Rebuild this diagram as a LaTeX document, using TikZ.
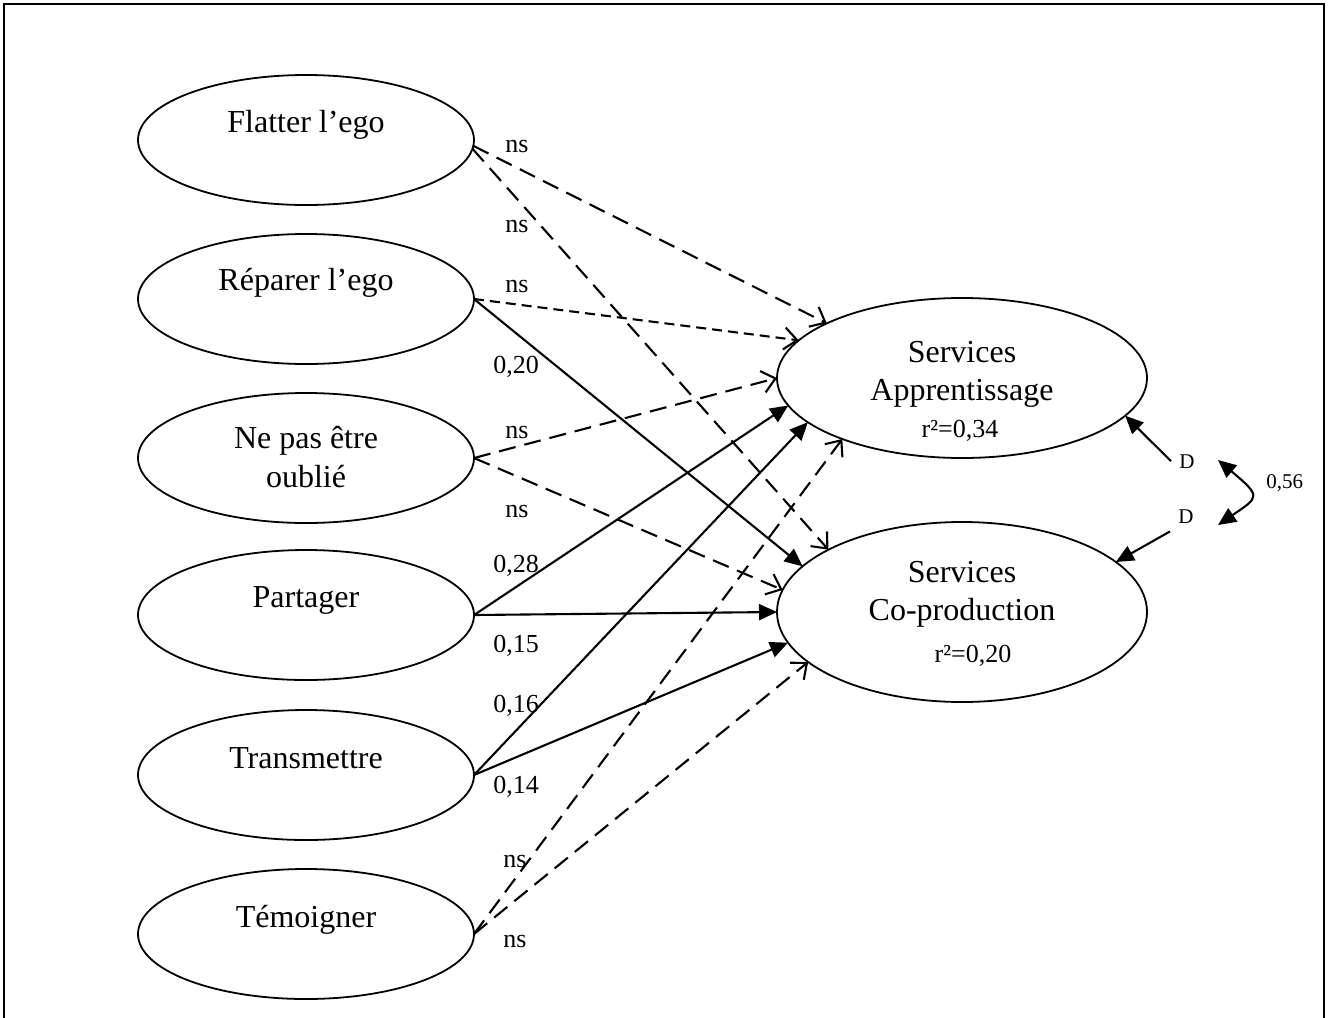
\documentclass[tikz,border=0pt]{standalone}
\usepackage{fontspec}
\setmainfont{Liberation Serif}
\usetikzlibrary{arrows.meta,shapes.geometric}
\begin{document}
\begin{tikzpicture}[x=0.5pt,y=-0.5pt,
  src/.style={ellipse,draw,line width=0.9pt,minimum width=168pt,minimum height=65pt,inner sep=0pt,outer sep=0pt},
  tgtA/.style={ellipse,draw,line width=0.9pt,minimum width=185pt,minimum height=80pt,inner sep=0pt,outer sep=0pt},
  tgtC/.style={ellipse,draw,line width=0.9pt,minimum width=185pt,minimum height=90pt,inner sep=0pt,outer sep=0pt},
  big/.style={font=\fontsize{16}{19.5}\selectfont,anchor=base,inner sep=0pt},
  rsq/.style={font=\fontsize{13}{15}\selectfont,anchor=base,inner sep=0pt},
  coef/.style={font=\fontsize{13}{15}\selectfont,anchor=base west,inner sep=0pt},
  dnode/.style={font=\fontsize{10.5}{12}\selectfont,anchor=base,inner sep=4pt},
  filledtip/.style={Triangle[length=9pt,width=8pt]},
  sig/.style={line width=1.05pt,-{Triangle[length=9pt,width=8pt]}},
  nsig/.style={line width=1.05pt,dash pattern=on 8.5pt off 4.5pt,-{Straight Barb[length=6.5pt,width=11pt,line width=1.05pt]}},
  nsigshort/.style={nsig,dash pattern=on 5pt off 3pt},
]
\useasboundingbox (0,0) rectangle (1329,1018);
% frame
\draw[line width=1pt] (4,1030) -- (4,4) -- (1324,4) -- (1324,1030);

% source ellipses
\node[src] (f) at (306,140) {};
\node[src] (r) at (306,299) {};
\node[src] (n) at (306,458) {};
\node[src] (p) at (306,615) {};
\node[src] (t) at (306,775) {};
\node[src] (m) at (306,934) {};
\node[big] (fT) at (306,132) {Flatter l’ego};
\node[big] (rT) at (306,290) {Réparer l’ego};
\node[big] (nT1) at (306,448) {Ne pas être};
\node[big] (nT2) at (306,487) {oublié};
\node[big] (pT) at (306,607) {Partager};
\node[big] (tT) at (306,768) {Transmettre};
\node[big] (mT) at (306,927) {Témoigner};

% target ellipses
\node[tgtA] (A) at (962,378) {};
\node[tgtC] (C) at (962,612) {};
\node[big] (AT1) at (962,362) {Services};
\node[big] (AT2) at (962,400) {Apprentissage};
\node[rsq] (AT3) at (960,437) {r²=0,34};
\node[big] (CT1) at (962,582) {Services};
\node[big] (CT2) at (962,620) {Co-production};
\node[rsq] (CT3) at (973,662) {r²=0,20};

% paths
\draw[nsig] (f.-2) -- (A.158);
\draw[nsig] (f.-3) -- (C.155);
\draw[nsigshort] (r.east) -- (A.167);
\draw[sig] (r.east) -- (C.164);
\draw[nsig] (n.east) -- (A.180);
\draw[nsig] (n.east) -- (C.173);
\draw[sig] (p.east) -- (A.189);
\draw[sig] (p.east) -- (C.180);
\draw[sig] (t.east) -- (A.196);
\draw[sig] (t.east) -- (C.190);
\draw[nsig] (m.east) -- (A.207);
\draw[nsig] (m.east) -- (C.198);

% coefficients
\node[coef] (l1) at (505,152) {ns};
\node[coef] (l2) at (505,232) {ns};
\node[coef] (l3) at (505,292) {ns};
\node[coef] (l4) at (493,373) {0,20};
\node[coef] (l5) at (505,438) {ns};
\node[coef] (l6) at (505,517) {ns};
\node[coef] (l7) at (493,572) {0,28};
\node[coef] (l8) at (493,652) {0,15};
\node[coef] (l9) at (493,712) {0,16};
\node[coef] (l10) at (493,793) {0,14};
\node[coef] (l11) at (503,867) {ns};
\node[coef] (l12) at (503,947) {ns};

% disturbances
\node[dnode] (dU) at (1187,468) {D};
\node[dnode] (dL) at (1186,523) {D};
\draw[sig] (dU.west) -- (A.347.7);
\draw[sig] (dL.south west) -- (C.18);
\coordinate (cU) at (1218,460);
\coordinate (cL) at (1218,525);
\draw[line width=1.05pt,{Triangle[length=9pt,width=8pt]}-{Triangle[length=9pt,width=8pt]}] (cU) .. controls (1262,497) and (1259,497) .. (cL);
\node[font=\fontsize{10.5}{12}\selectfont,anchor=base west,inner sep=0pt] (cov) at (1266,488) {0,56};
\end{tikzpicture}
\end{document}
